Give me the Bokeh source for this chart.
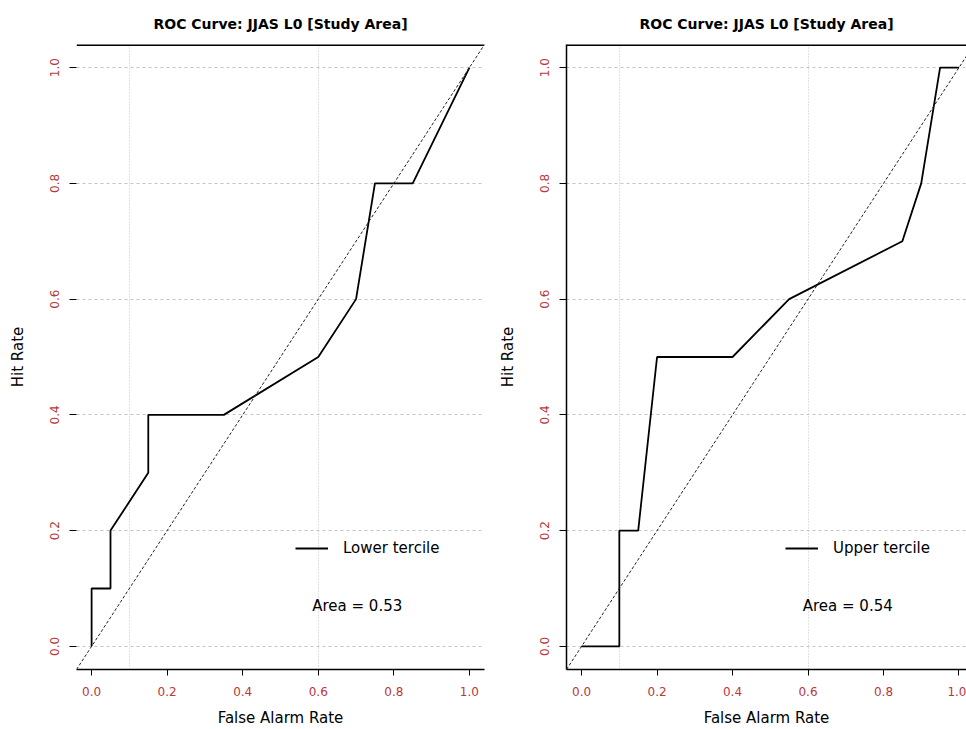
from bokeh.plotting import figure
from bokeh.models import (FixedTicker, Legend, LegendItem, Label, Slope, Range1d, Span)
from bokeh.layouts import row
from bokeh.embed import file_html
from bokeh.resources import INLINE

# ---- data ----
TITLE = "ROC Curve: JJAS L0 [Study Area]"
X_LABEL = "False Alarm Rate"
Y_LABEL = "Hit Rate"

far_lower = [0.0, 0.0, 0.05, 0.05, 0.15, 0.15, 0.35, 0.60, 0.70, 0.75, 0.85, 1.0]
hit_lower = [0.0, 0.1, 0.10, 0.20, 0.30, 0.40, 0.40, 0.50, 0.60, 0.80, 0.80, 1.0]
far_upper = [0.0, 0.1, 0.10, 0.15, 0.20, 0.40, 0.55, 0.85, 0.90, 0.95, 1.0]
hit_upper = [0.0, 0.0, 0.20, 0.20, 0.50, 0.50, 0.60, 0.70, 0.80, 1.00, 1.0]
series_names = ["Lower tercile", "Upper tercile"]
area_texts = ["Area = 0.53", "Area = 0.54"]

tick_values = [0.0, 0.2, 0.4, 0.6, 0.8, 1.0]
tick_labels = ["0.0", "0.2", "0.4", "0.6", "0.8", "1.0"]
vgrid_values = [0.1, 0.6]

FONT = "DejaVu Sans"
RED = "#b8383b"


def make_panel(far, hit, name, area_text, x_end, width, min_left, min_right,
               left_line, area_x):
    p = figure(width=width, height=729,
               x_range=Range1d(-0.04, x_end), y_range=Range1d(-0.04, 1.04),
               output_backend="svg", toolbar_location=None,
               min_border_left=min_left, min_border_right=min_right,
               min_border_top=43, min_border_bottom=0, title=TITLE)
    p.outline_line_color = None
    p.background_fill_color = "white"
    p.border_fill_color = "white"

    p.title.text_font = FONT
    p.title.text_font_size = "14px"
    p.title.text_font_style = "bold"
    p.title.text_color = "black"
    p.title.align = "center"
    p.title.standoff = 26

    overrides = {v: s for v, s in zip(tick_values, tick_labels)}
    for ax in (p.xaxis[0], p.yaxis[0]):
        ax.ticker = FixedTicker(ticks=tick_values)
        ax.major_label_overrides = overrides
        ax.minor_tick_line_color = None
        ax.major_tick_in = 0
        ax.major_tick_out = 7
        ax.major_tick_line_color = "black"
        ax.major_label_text_color = RED
        ax.major_label_text_font = FONT
        ax.major_label_text_font_size = "12px"
        ax.axis_label_text_font = FONT
        ax.axis_label_text_font_size = "15px"
        ax.axis_label_text_font_style = "normal"
        ax.axis_label_text_color = "black"
        ax.axis_line_color = "black"
        ax.axis_line_width = 1.5
    p.xaxis.axis_label = X_LABEL
    p.yaxis.axis_label = Y_LABEL
    p.xaxis.major_tick_out = 6
    p.xaxis.major_label_standoff = 11
    p.xaxis.axis_label_standoff = 10
    p.yaxis.major_label_orientation = "vertical"
    p.yaxis.major_label_standoff = 10
    p.yaxis.axis_label_standoff = 21
    if not left_line:
        p.yaxis.axis_line_color = None

    p.xgrid.ticker = FixedTicker(ticks=vgrid_values)
    p.xgrid.grid_line_color = "#c4c4c4"
    p.xgrid.grid_line_dash = "1 2"
    p.ygrid.ticker = FixedTicker(ticks=tick_values)
    p.ygrid.grid_line_color = "#c4c4c4"
    p.ygrid.grid_line_dash = "3 3"

    # top border of the box
    p.add_layout(Span(location=p.y_range.end, dimension="width",
                      line_color="black", line_width=3))

    # no-skill diagonal
    p.add_layout(Slope(gradient=1, y_intercept=0, line_color="#222222",
                       line_width=1, line_dash="3 2"))

    r = p.line(far, hit, line_color="black", line_width=1.8)

    legend = Legend(items=[LegendItem(label=name, renderers=[r])],
                    location=(219, 112), border_line_color=None,
                    background_fill_alpha=0, padding=0, margin=0,
                    glyph_width=33, glyph_height=16, label_height=16,
                    label_standoff=15, label_text_font=FONT,
                    label_text_font_size="15px", label_text_color="black")
    p.add_layout(legend)

    p.add_layout(Label(x=area_x, y=0.069, text=area_text, text_font=FONT,
                       text_font_size="15px", text_baseline="middle",
                       text_color="black"))
    return p


p1 = make_panel(far_lower, hit_lower, series_names[0], area_texts[0],
                1.04, 490, 76, 6, False, 0.584)
p2 = make_panel(far_upper, hit_upper, series_names[1], area_texts[1],
                1.02, 476, 76, 0, True, 0.586)

layout = row(p1, p2)
open("out.html", "w").write(file_html(layout, INLINE))
